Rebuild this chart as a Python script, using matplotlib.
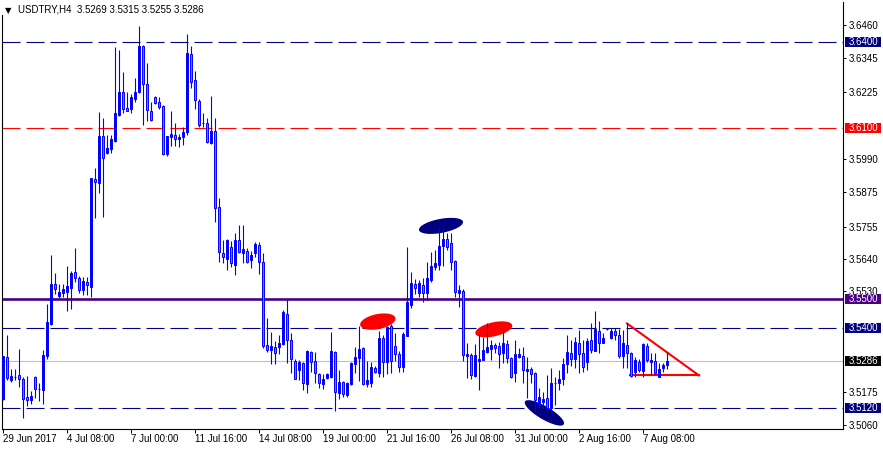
import numpy as np
import matplotlib
matplotlib.use("Agg")
import matplotlib.pyplot as plt
from matplotlib.patches import Rectangle, Polygon
from matplotlib.transforms import blended_transform_factory

plt.rcParams['font.family'] = ['Liberation Sans', 'DejaVu Sans']
plt.rcParams['lines.scale_dashes'] = False

# H4 candles, USDTRY, 29 Jun 2017 16:00 -> 8 Aug 2017 08:00
opens = [3.5152, 3.5299, 3.5218, 3.5227, 3.5236, 3.5222, 3.5159, 3.5148, 3.5228, 3.5187,
         3.5183, 3.5302, 3.5414, 3.5554, 3.5512, 3.5523, 3.5526, 3.5540, 3.5596, 3.5575,
         3.5533, 3.5561, 3.5544, 3.5922, 3.5908, 3.6072, 3.6013, 3.6027, 3.6055, 3.6146,
         3.6226, 3.6170, 3.6167, 3.6202, 3.6226, 3.6387, 3.6254, 3.6160, 3.6209, 3.6191,
         3.6177, 3.6009, 3.6069, 3.6076, 3.6062, 3.6069, 3.6086, 3.6359, 3.6268, 3.6195,
         3.6118, 3.6118, 3.6048, 3.6090, 3.5824, 3.5663, 3.5642, 3.5683, 3.5621, 3.5708,
         3.5663, 3.5670, 3.5638, 3.5663, 3.5690, 3.5631, 3.5341, 3.5323, 3.5334, 3.5334,
         3.5344, 3.5449, 3.5358, 3.5285, 3.5253, 3.5278, 3.5204, 3.5316, 3.5285, 3.5239,
         3.5204, 3.5225, 3.5228, 3.5316, 3.5173, 3.5211, 3.5166, 3.5204, 3.5274, 3.5295,
         3.5330, 3.5204, 3.5208, 3.5260, 3.5243, 3.5365, 3.5281, 3.5407, 3.5337, 3.5309,
         3.5264, 3.5372, 3.5481, 3.5554, 3.5523, 3.5551, 3.5523, 3.5568, 3.5614, 3.5621,
         3.5687, 3.5712, 3.5697, 3.5635, 3.5523, 3.5530, 3.5302, 3.5306, 3.5232, 3.5285,
         3.5288, 3.5316, 3.5327, 3.5341, 3.5337, 3.5313, 3.5344, 3.5295, 3.5243, 3.5299,
         3.5302, 3.5250, 3.5257, 3.5243, 3.5131, 3.5141, 3.5155, 3.5120, 3.5206, 3.5208,
         3.5222, 3.5274, 3.5313, 3.5292, 3.5348, 3.5313, 3.5281, 3.5358, 3.5320, 3.5390,
         3.5348, 3.5397, 3.5365, 3.5390, 3.5376, 3.5302, 3.5341, 3.5313, 3.5246, 3.5281,
         3.5250, 3.5337, 3.5281, 3.5285, 3.5228, 3.5260, 3.5269]
highs = [3.5302, 3.5375, 3.5257, 3.5257, 3.5327, 3.5228, 3.5232, 3.5180, 3.5232, 3.5208,
         3.5323, 3.5484, 3.5656, 3.5593, 3.5554, 3.5554, 3.5617, 3.5600, 3.5680, 3.5582,
         3.5579, 3.5579, 3.5925, 3.5960, 3.6156, 3.6135, 3.6076, 3.6076, 3.6384, 3.6373,
         3.6296, 3.6226, 3.6219, 3.6275, 3.6457, 3.6391, 3.6328, 3.6191, 3.6212, 3.6209,
         3.6180, 3.6072, 3.6160, 3.6118, 3.6079, 3.6104, 3.6429, 3.6387, 3.6300, 3.6202,
         3.6153, 3.6135, 3.6212, 3.6135, 3.5855, 3.5708, 3.5711, 3.5704, 3.5733, 3.5761,
         3.5761, 3.5680, 3.5670, 3.5701, 3.5701, 3.5663, 3.5435, 3.5386, 3.5355, 3.5376,
         3.5463, 3.5502, 3.5383, 3.5292, 3.5288, 3.5281, 3.5323, 3.5320, 3.5316, 3.5243,
         3.5239, 3.5243, 3.5386, 3.5320, 3.5253, 3.5213, 3.5210, 3.5281, 3.5334, 3.5407,
         3.5334, 3.5285, 3.5281, 3.5267, 3.5390, 3.5376, 3.5407, 3.5414, 3.5383, 3.5320,
         3.5386, 3.5684, 3.5596, 3.5572, 3.5568, 3.5575, 3.5631, 3.5666, 3.5673, 3.5754,
         3.5754, 3.5733, 3.5733, 3.5638, 3.5551, 3.5537, 3.5348, 3.5313, 3.5344, 3.5383,
         3.5369, 3.5418, 3.5358, 3.5348, 3.5351, 3.5393, 3.5358, 3.5299, 3.5358, 3.5330,
         3.5334, 3.5299, 3.5264, 3.5246, 3.5190, 3.5176, 3.5236, 3.5260, 3.5228, 3.5253,
         3.5295, 3.5376, 3.5358, 3.5369, 3.5393, 3.5358, 3.5365, 3.5418, 3.5460, 3.5425,
         3.5383, 3.5400, 3.5400, 3.5400, 3.5397, 3.5393, 3.5418, 3.5316, 3.5299, 3.5292,
         3.5348, 3.5348, 3.5313, 3.5313, 3.5278, 3.5278, 3.5315]
lows = [3.5148, 3.5218, 3.5211, 3.5218, 3.5194, 3.5085, 3.5127, 3.5134, 3.5155, 3.5145,
        3.5134, 3.5292, 3.5411, 3.5519, 3.5505, 3.5509, 3.5460, 3.5467, 3.5561, 3.5523,
        3.5516, 3.5516, 3.5509, 3.5785, 3.5873, 3.5789, 3.6010, 3.6013, 3.6052, 3.6142,
        3.6153, 3.6158, 3.6153, 3.6191, 3.6224, 3.6111, 3.6125, 3.6126, 3.6184, 3.6167,
        3.6006, 3.6002, 3.6037, 3.6037, 3.6034, 3.6041, 3.6076, 3.6240, 3.6167, 3.6104,
        3.6104, 3.6048, 3.6045, 3.5771, 3.5631, 3.5628, 3.5603, 3.5614, 3.5586, 3.5663,
        3.5628, 3.5628, 3.5610, 3.5649, 3.5589, 3.5330, 3.5316, 3.5274, 3.5274, 3.5309,
        3.5341, 3.5278, 3.5243, 3.5220, 3.5218, 3.5183, 3.5173, 3.5246, 3.5208, 3.5190,
        3.5187, 3.5222, 3.5225, 3.5110, 3.5152, 3.5159, 3.5159, 3.5202, 3.5243, 3.5215,
        3.5202, 3.5194, 3.5194, 3.5243, 3.5228, 3.5228, 3.5239, 3.5243, 3.5285, 3.5246,
        3.5246, 3.5372, 3.5470, 3.5519, 3.5509, 3.5491, 3.5498, 3.5561, 3.5603, 3.5603,
        3.5617, 3.5673, 3.5603, 3.5509, 3.5474, 3.5285, 3.5225, 3.5222, 3.5228, 3.5183,
        3.5288, 3.5313, 3.5288, 3.5313, 3.5260, 3.5278, 3.5278, 3.5226, 3.5211, 3.5295,
        3.5208, 3.5155, 3.5208, 3.5110, 3.5120, 3.5120, 3.5106, 3.5106, 3.5131, 3.5183,
        3.5201, 3.5243, 3.5267, 3.5260, 3.5243, 3.5246, 3.5253, 3.5313, 3.5320, 3.5313,
        3.5346, 3.5393, 3.5362, 3.5358, 3.5295, 3.5260, 3.5260, 3.5228, 3.5228, 3.5246,
        3.5228, 3.5281, 3.5236, 3.5236, 3.5228, 3.5246, 3.5255]
closes = [3.5302, 3.5225, 3.5232, 3.5229, 3.5222, 3.5152, 3.5148, 3.5162, 3.5187, 3.5188,
          3.5306, 3.5421, 3.5554, 3.5537, 3.5526, 3.5537, 3.5547, 3.5593, 3.5575, 3.5533,
          3.5565, 3.5551, 3.5925, 3.5911, 3.6072, 3.5995, 3.6030, 3.6062, 3.6153, 3.6226,
          3.6167, 3.6160, 3.6209, 3.6226, 3.6387, 3.6254, 3.6163, 3.6128, 3.6188, 3.6174,
          3.6009, 3.6072, 3.6079, 3.6062, 3.6069, 3.6086, 3.6363, 3.6261, 3.6198, 3.6111,
          3.6116, 3.6051, 3.6090, 3.5820, 3.5666, 3.5649, 3.5708, 3.5628, 3.5708, 3.5666,
          3.5676, 3.5631, 3.5656, 3.5694, 3.5631, 3.5337, 3.5323, 3.5337, 3.5313, 3.5348,
          3.5456, 3.5358, 3.5292, 3.5222, 3.5281, 3.5208, 3.5320, 3.5281, 3.5243, 3.5208,
          3.5222, 3.5239, 3.5320, 3.5176, 3.5211, 3.5169, 3.5208, 3.5278, 3.5299, 3.5327,
          3.5204, 3.5218, 3.5264, 3.5246, 3.5365, 3.5281, 3.5404, 3.5285, 3.5309, 3.5264,
          3.5379, 3.5491, 3.5558, 3.5540, 3.5558, 3.5523, 3.5575, 3.5617, 3.5628, 3.5687,
          3.5712, 3.5683, 3.5631, 3.5526, 3.5533, 3.5306, 3.5309, 3.5236, 3.5306, 3.5292,
          3.5323, 3.5334, 3.5341, 3.5330, 3.5309, 3.5348, 3.5295, 3.5228, 3.5309, 3.5309,
          3.5253, 3.5257, 3.5239, 3.5148, 3.5159, 3.5152, 3.5120, 3.5208, 3.5208, 3.5222,
          3.5274, 3.5316, 3.5292, 3.5351, 3.5309, 3.5264, 3.5355, 3.5323, 3.5397, 3.5348,
          3.5365, 3.5398, 3.5390, 3.5376, 3.5302, 3.5348, 3.5313, 3.5232, 3.5288, 3.5253,
          3.5344, 3.5288, 3.5288, 3.5243, 3.5257, 3.5271, 3.5286]

# time axis labels (bar index, text)
x_tick_bars = [0, 16, 32, 48, 64, 80, 96, 112, 128, 144, 160]
x_tick_labels = ['29 Jun 2017', '4 Jul 08:00', '7 Jul 00:00', '11 Jul 16:00', '14 Jul 08:00',
                 '19 Jul 00:00', '21 Jul 16:00', '26 Jul 08:00', '31 Jul 00:00',
                 '2 Aug 16:00', '7 Aug 08:00']
y_tick_values = [3.6460, 3.6345, 3.6225, 3.5990, 3.5875, 3.5755, 3.5640, 3.5530, 3.5175, 3.5060]

# horizontal levels drawn on the chart
level_prices = [3.6400, 3.6100, 3.5500, 3.5400, 3.5286, 3.5120]
level_colors = ['#000080', '#FF0000', '#4B0082', '#000080', '#C0C0C0', '#000080']
level_box_colors = ['#000080', '#FF0000', '#4B0082', '#000080', '#000000', '#000080']
level_styles = ['dash', 'dash', 'thick', 'dash', 'solid', 'dash']

# ellipse markups: (start bar, start price, end bar, end price), color
ellipse_ends = [(104.0, 3.5743, 115.0, 3.5772),
                (89.3, 3.5410, 98.1, 3.5435),
                (118.1, 3.5381, 127.3, 3.5410),
                (130.5, 3.5143, 140.2, 3.5063)]
ellipse_colors = ['#000080', '#FF0000', '#FF0000', '#000080']
ellipse_thick = [14, 15, 14, 13]

# triangle markup (bar, price)
tri_top = (156.0, 3.5416)
tri_right = (174.0, 3.5234)
tri_left = (156.7, 3.5234)

W, H = 883, 450
fig = plt.figure(figsize=(W / 100, H / 100), dpi=100)
fig.patch.set_facecolor('white')
ax_l, ax_r, ax_t, ax_b = 2, 843, 2, 429
ax = fig.add_axes([ax_l / W, (H - ax_b) / H, (ax_r - ax_l) / W, (ax_b - ax_t) / H])
ax.set_facecolor('white')

ax.set_xlim(-0.25, 210)
ax.set_ylim(3.50466, 3.65411)
px_price = (3.65411 - 3.50466) / (ax_b - ax_t)
px_axfrac = 1.0 / (ax_r - ax_l)

x = np.arange(len(opens))
o = np.array(opens); h = np.array(highs); l = np.array(lows); c = np.array(closes)
bull = c >= o

# levels
for price, col, st in zip(level_prices, level_colors, level_styles):
    if st == 'dash':
        ax.axhline(price, color=col, lw=0.8, linestyle=(0, (12.96, 4.32)), zorder=1)
    elif st == 'thick':
        ax.axhline(price, color=col, lw=1.9, zorder=1)
    else:
        ax.axhline(price, color=col, lw=0.8, zorder=1)


def draw_ellipse(ax, ends, thick, color):
    p0 = ax.transData.transform((ends[0], ends[1]))
    p1 = ax.transData.transform((ends[2], ends[3]))
    cen = (p0 + p1) / 2
    d = p1 - p0
    a = np.hypot(d[0], d[1]) / 2
    u = d / (2 * a)
    v = np.array([-u[1], u[0]])
    t = np.linspace(0, 2 * np.pi, 100)
    pts = cen + np.outer(a * np.cos(t), u) + np.outer(thick / 2 * np.sin(t), v)
    ax.add_patch(Polygon(ax.transData.inverted().transform(pts), closed=True,
                         fc=color, ec='none', zorder=1.5))


for ends, col, th in zip(ellipse_ends, ellipse_colors, ellipse_thick):
    draw_ellipse(ax, ends, th, col)

# triangle (two visible sides)
ax.plot([tri_top[0], tri_right[0]], [tri_top[1], tri_right[1]], color='#FF0000', lw=1.5, zorder=2)
ax.plot([tri_left[0], tri_right[0]], [tri_left[1], tri_right[1]], color='#FF0000', lw=1.5, zorder=2)

# candles
ax.vlines(x, l, h, color='#0000FF', lw=0.8, zorder=3)
body_bottom = np.minimum(o, c)
body_height = np.abs(c - o)
ax.bar(x, body_height, bottom=body_bottom, width=0.62,
       color=np.where(bull, '#0000FF', '#FF5533'), edgecolor='#0000FF',
       linewidth=0.7, zorder=4)

# axes styling
for side in ['left', 'bottom', 'right']:
    ax.spines[side].set_color('black')
    ax.spines[side].set_linewidth(0.8)
ax.spines['top'].set_visible(False)

ax.yaxis.tick_right()
ax.set_yticks(y_tick_values)
ax.set_yticklabels([f'{v:.4f}' for v in y_tick_values])
ax.tick_params(axis='y', direction='out', length=2, width=0.7, pad=2, labelsize=7, colors='black')

ax.set_xticks(x_tick_bars)
ax.set_xticklabels(x_tick_labels)
ax.tick_params(axis='x', direction='out', length=3, width=0.7, pad=0.5, labelsize=7, colors='black')
for lab in ax.get_xticklabels():
    lab.set_ha('left')

# level price boxes on the right axis
trans = blended_transform_factory(ax.transAxes, ax.transData)
for price, bcol in zip(level_prices, level_box_colors):
    ax.add_patch(Rectangle((1 + 2 * px_axfrac, price - 5 * px_price), 36 * px_axfrac, 10 * px_price,
                           transform=trans, fc=bcol, ec='none', clip_on=False, zorder=10))
    ax.text(1 + 5.5 * px_axfrac, price, f'{price:.4f}', transform=trans, color='white',
            fontsize=7, va='center', ha='left', zorder=11, clip_on=False)

# chart title
fig.add_artist(Rectangle((0, (H - 15) / H), 205 / W, 15 / H, transform=fig.transFigure,
                         fc='white', ec='none', zorder=5))
fig.text(5 / W, (H - 10.5) / H, '\u25bc', fontsize=6, family=['DejaVu Sans'],
         va='center', ha='left', color='black', zorder=6)
fig.text(18 / W, (H - 10) / H, 'USDTRY,H4  3.5269 3.5315 3.5255 3.5286', fontsize=7,
         va='center', ha='left', color='black', zorder=6)

fig.savefig('out.png', dpi=100, facecolor='white')
